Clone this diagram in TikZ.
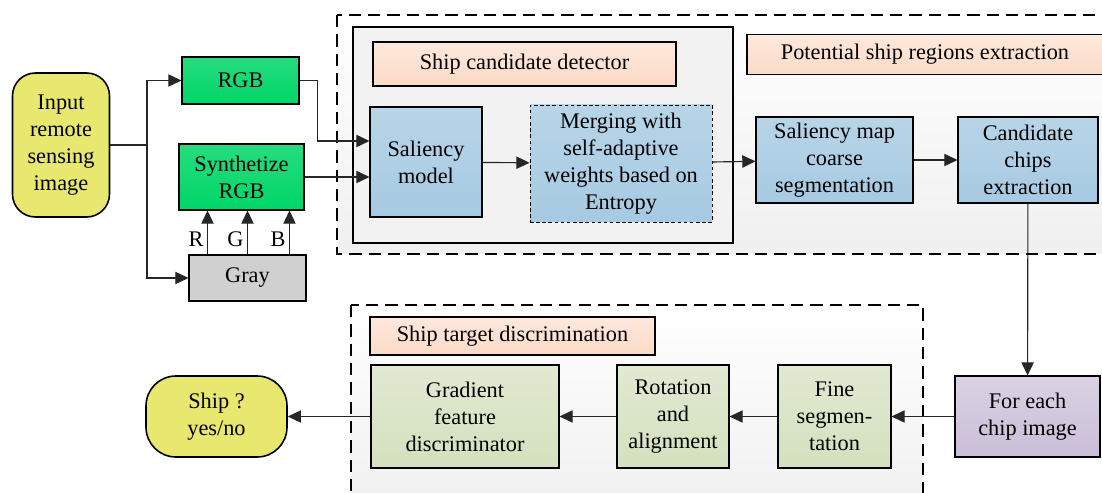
\documentclass[tikz,border=0pt]{standalone}
\usepackage{fontspec}
\setmainfont{Liberation Serif}
\usetikzlibrary{arrows.meta,positioning,calc}
\definecolor{yel}{RGB}{232,232,112}
\definecolor{grn}{RGB}{0,214,104}
\definecolor{gry}{RGB}{208,208,208}
\definecolor{blu}{RGB}{166,202,226}
\definecolor{pch}{RGB}{252,218,198}
\definecolor{lgr}{RGB}{212,224,190}
\definecolor{pur}{RGB}{202,190,216}
\tikzset{
	sz/.style 2 args={minimum width=#1*0.02cm,minimum height=#2*0.02cm},
	box/.style={draw,rectangle,align=center,line width=0.6pt,inner sep=2pt},
	term/.style={box,fill=yel,rounded corners=13pt,line width=0.9pt},
	rgbbox/.style={box,top color=grn!85,bottom color=grn},
	stepbox/.style={box,top color=blu!80,bottom color=blu},
	discbox/.style={box,top color=lgr!70,bottom color=lgr},
	title/.style={box,top color=pch!60,bottom color=pch},
	group/.style={draw,dashed,dash pattern=on 7pt off 4pt,line width=0.9pt,top color=white,bottom color=black!6},
	arr/.style={-{Triangle[length=7.5pt,width=7pt]},draw=black!85,line width=0.65pt},
	ln/.style={draw=black!85,line width=0.65pt}
}

\begin{document}
\begin{tikzpicture}[x=0.02cm,y=-0.02cm,font=\fontsize{12.7pt}{15.4pt}\selectfont]
            \clip (0,0) rectangle (1102,493);
            \fill[white] (0,0) rectangle (1102,493);
            \path[group] (337,15) rectangle (1115,254);
            \path[draw,line width=0.6pt,fill=black!5] (353,27) rectangle (733,243);
            \path[group] (351,305) rectangle (923,510);
            \node[title,sz={303}{44}] (lbl1) at (524.5,64) {Ship candidate detector};
            \node[title,sz={356}{40}] (lbl2) at (925,54.5) {Potential ship regions extraction};
            \node[title,sz={285}{38}] (lbl3) at (512.5,336) {Ship target discrimination};
            \node[term,sz={97}{144}] (inp) at (61,145) {Input\\remote\\sensing\\image};
            \node[rgbbox,sz={117}{47}] (rgb) at (240.5,80.5) {RGB};
            \node[rgbbox,sz={125}{66}] (syn) at (241.5,177) {Synthetize\\RGB};
            \node[box,fill=gry,sz={117}{46}] (gray) at (247.5,278) {Gray};
            \node[stepbox,sz={112}{110}] (sal) at (426,162) {Saliency\\model};
            \node[stepbox,dashed,dash pattern=on 2pt off 1.5pt,line width=0.5pt,sz={182}{117}] (mrg) at (621,163.5) {Merging with\\self-adaptive\\weights based on\\Entropy};
            \node[stepbox,sz={157}{86}] (smc) at (834.5,160) {Saliency map\\coarse\\segmentation};
            \node[stepbox,sz={140}{86}] (cce) at (1028,160) {Candidate\\chips\\extraction};
            \node[box,top color=pur!70,bottom color=pur,sz={145}{81}] (fec) at (1027.5,416.5) {For each\\chip image};
            \node[discbox,sz={113}{103}] (fin) at (834.5,416.5) {Fine\\segmen-\\tation};
            \node[discbox,sz={112}{103}] (rot) at (673,416.5) {Rotation\\and\\alignment};
            \node[discbox,sz={188}{103}] (gfd) at (465,416.5) {Gradient\\feature\\discriminator};
            \node[term,sz={141}{81},rounded corners=17pt] (ship) at (216.5,416.5) {Ship ?\\yes/no};
            \coordinate (split) at (147,145);
            \draw[ln] (inp.east) -- (split);
            \draw[arr] (split) |- (rgb.west);
            \draw[arr] (split) |- (gray.west);
            \draw[arr] (rgb.east) -- ++(18,0) |- ($(sal.west)+(0,-21)$);
            \draw[arr] (syn.east) -- (syn.east -| sal.west);
            \foreach \dx/\ch in {-40/R,0/G,42/B}
                \draw[arr] ($(gray.north)+(\dx,0)$) coordinate (t) -- (t |- syn.south) node[pos=0.35,left,inner sep=2pt] {\ch};
            \draw[arr] (sal) -- (mrg);
            \draw[arr] (mrg) -- (smc);
            \draw[arr] (smc) -- (cce);
            \draw[arr] (cce) -- (fec);
            \draw[arr] (fec) -- (fin);
            \draw[arr] (fin) -- (rot);
            \draw[arr] (rot) -- (gfd);
            \draw[arr] (gfd) -- (ship);
        \end{tikzpicture}
\end{document}
